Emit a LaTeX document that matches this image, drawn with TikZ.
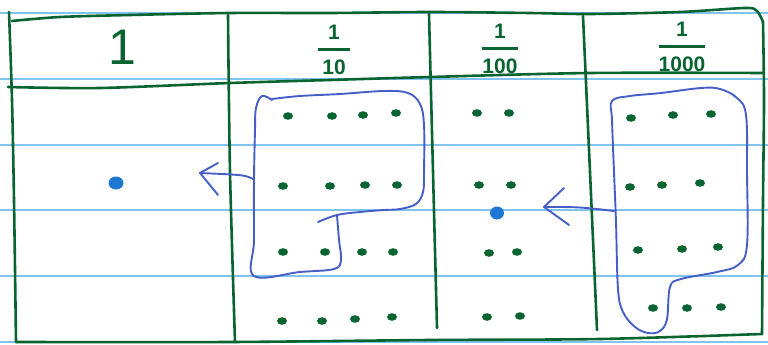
\documentclass[tikz,border=0pt]{standalone}
\usepackage{amsmath}
\usepackage{fontspec}
\setmainfont{Liberation Sans}
\definecolor{ink}{RGB}{10,100,50}
\definecolor{pen}{RGB}{70,95,200}
\definecolor{paperline}{RGB}{130,195,240}
\definecolor{bdot}{RGB}{30,120,210}
\newcommand\gdot[2]{\fill[ink] (#1,#2) ellipse [x radius=5, y radius=3.8];}
\begin{document}
\begin{tikzpicture}[x=1pt,y=-1pt,
  grid/.style={draw=ink, line width=2.6pt, line cap=round, line join=round},
  penline/.style={draw=pen, line width=1.9pt, line cap=round, line join=round},
  paper/.style={draw=paperline, line width=2.4pt},
  hdr/.style={text=ink, inner sep=0pt, font=\fontsize{21}{25}\selectfont\bfseries}]
\useasboundingbox (0,0) rectangle (768,345);
\fill[white] (0,0) rectangle (768,345);
% ruled paper
\foreach \y in {13,79,145,210,276,342} \draw[paper] (0,\y) -- (768,\y);
% green table
\draw[grid] plot[smooth] coordinates {(12,21) (60,17) (130,15) (230,13) (330,13) (430,12) (530,13) (590,14) (680,12) (745,8) (757,11) (763,22)};
\draw[grid] plot[smooth] coordinates {(763,22) (764,100) (763,200) (762,334)};
\draw[grid] plot[smooth] coordinates {(9,12) (12,100) (14,200) (16,342)};
\draw[grid] plot[smooth] coordinates {(8,87) (100,88) (230,83) (330,80) (430,77) (590,73) (763,73)};
\draw[grid] plot[smooth] coordinates {(16,342) (230,342) (430,340) (600,339) (762,334)};
\draw[grid] plot[smooth] coordinates {(228,15) (230,172) (235,342)};
\draw[grid] plot[smooth] coordinates {(429,14) (433,172) (437,328)};
\draw[grid] plot[smooth] coordinates {(583,16) (590,172) (597,330)};
% headers
\node[text=ink, inner sep=0pt, font=\fontsize{50}{50}\selectfont] (h1) at (122,47) {1};
\node[hdr] (h2) at (334,50) {$\genfrac{}{}{3pt}{0}{\mbox{1}}{\mbox{\hspace{4pt}10\hspace{4pt}}}$};
\node[hdr] (h3) at (500,49) {$\genfrac{}{}{3pt}{0}{\mbox{1}}{\mbox{100}}$};
\node[hdr] (h4) at (682,47) {$\genfrac{}{}{3pt}{0}{\mbox{1}}{\mbox{1000}}$};
% dots 1/10
\gdot{288}{116}\gdot{332}{116}\gdot{363}{115}\gdot{396}{113}
\gdot{283}{186}\gdot{330}{186}\gdot{365}{185}\gdot{397}{185}
\gdot{283}{252}\gdot{325}{252}\gdot{362}{252}\gdot{393}{252}
\gdot{282}{321}\gdot{322}{321}\gdot{355}{319}\gdot{392}{317}
% dots 1/100
\gdot{477}{113}\gdot{509}{113}
\gdot{479}{185}\gdot{511}{185}
\gdot{489}{253}\gdot{517}{252}
\gdot{487}{317}\gdot{520}{316}
% dots 1/1000
\gdot{631}{118}\gdot{673}{115}\gdot{711}{114}
\gdot{630}{187}\gdot{662}{185}\gdot{700}{183}
\gdot{638}{250}\gdot{682}{249}\gdot{718}{247}
\gdot{653}{308}\gdot{687}{308}\gdot{721}{307}
% blue dots
\fill[bdot] (116,183) ellipse [x radius=7.5, y radius=6.5];
\fill[bdot] (497,213) ellipse [x radius=7, y radius=6.5];
% loop in 1/10 column
\draw[penline] plot[smooth, tension=0.6] coordinates {(272,99) (300,96) (340,94) (384,91) (408,93) (420,104) (424,125) (424,172) (423,192) (416,204) (400,209) (384,210) (360,212) (337,215) (318,222)};
\draw[penline] plot[smooth, tension=0.6] coordinates {(337,215) (339,240) (341,260) (334,269) (300,272) (254,276) (254,240) (254,180) (255,130) (256,108) (262,96) (272,100)};
% loop in 1/1000 column
\draw[penline] plot[smooth cycle, tension=0.6] coordinates {(612,101) (630,96) (661,93) (701,88) (720,89) (737,98) (746,115) (747,172) (747,245) (738,265) (717,272) (681,279) (670,287) (667,319) (660,331) (648,333) (635,327) (623,312) (618,289) (616,222) (614,172) (612,120)};
% arrows
\coordinate (a1s) at (253,179);
\coordinate (a1t) at (200,173);
\coordinate (a1u) at (218,163);
\coordinate (a1l) at (218,195);
\draw[penline] (a1s) .. controls (245,175) .. (a1t);
\draw[penline] (a1u) -- (a1t) -- (a1l);
\coordinate (a2s) at (614,211);
\coordinate (a2t) at (544,207);
\coordinate (a2u) at (564,188);
\coordinate (a2l) at (569,225);
\draw[penline] (a2s) .. controls (580,207) .. (a2t);
\draw[penline] (a2u) -- (a2t) -- (a2l);
\end{tikzpicture}
\end{document}
